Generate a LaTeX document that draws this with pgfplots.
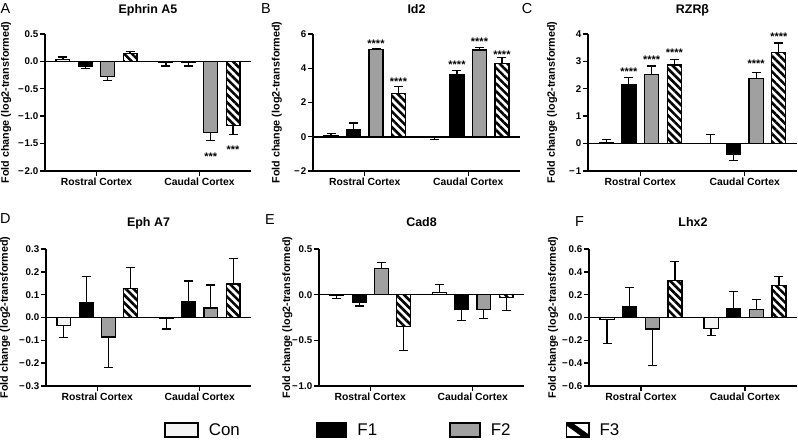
\documentclass[border=0pt]{standalone}
\usepackage{fontspec}
\setmainfont{Liberation Sans}
\usepackage{pgfplots}
\pgfplotsset{compat=1.18}
\usetikzlibrary{patterns.meta}
\definecolor{conc}{HTML}{F4F4F4}
\definecolor{grayF}{HTML}{A0A0A0}
\newcommand{\m}{−\kern0.1em}
\tikzset{st/.style={font=\bfseries\fontsize{11}{12}\selectfont, anchor=base, yshift=-6.3bp, inner sep=0pt}}
\pgfplotsset{
  panel/.style={
    scale only axis, anchor=south west,
    xmin=-0.8, xmax=8.4,
    axis x line=bottom, axis y line=left,
    axis line style={line width=1.6pt, -},
    xtick={1.5,6.1}, xticklabels={Rostral Cortex, Caudal Cortex},
    tick align=outside, major tick length=5bp,
    tick style={line width=1.4pt, black},
    xticklabel style={font=\bfseries\fontsize{10.4}{12}\selectfont, inner sep=1bp, yshift=-1bp},
    yticklabel style={font=\bfseries\fontsize{9.8}{11}\selectfont, inner sep=1.5bp},
    title style={at={(0.5,1)}, anchor=base, font=\bfseries\fontsize{12.5}{14}\selectfont},
    ylabel={Fold change (log2-transformed)},
    ylabel style={font=\bfseries\fontsize{10.8}{12}\selectfont, anchor=center},
    clip=false,
  },
  barbase/.style={ybar, bar width=0.62, bar shift=0pt, draw=black, line width=1.2pt,
    error bars/y dir=both, error bars/y explicit,
    error bars/error bar style={line width=1.2pt, black},
    error bars/error mark options={rotate=90, line width=1.2pt, mark size=4.5bp, black}},
  con/.style={barbase, fill=conc},
  fone/.style={barbase, fill=black},
  ftwo/.style={barbase, fill=grayF},
  fthree/.style={barbase, fill=white, postaction={pattern={Lines[angle=-45,distance=5.5bp,line width=2.6bp]}, pattern color=black}},
}
\begin{document}
\begin{tikzpicture}
\path[use as bounding box] (0,0) rectangle (798bp,443bp);

% ---------- A ----------
\begin{axis}[panel, at={(45bp,272bp)}, width=206bp, height=137bp,
  ymin=-2, ymax=0.5, ytick={-2,-1.5,-1,-0.5,0,0.5},
  yticklabels={\m2.0,\m1.5,\m1.0,\m0.5,0.0,0.5},
  title={Ephrin A5}, title style={yshift=15bp},
  ylabel style={at={(axis description cs:-0.189,0.5)}}]
\addplot[con] coordinates {(0,0.03) += (0,0.05) -= (0,0) (4.6,-0.01) += (0,0) -= (0,0.075)};
\addplot[fone] coordinates {(1,-0.085) += (0,0) -= (0,0.045) (5.6,-0.02) += (0,0) -= (0,0.065)};
\addplot[ftwo] coordinates {(2,-0.27) += (0,0) -= (0,0.08) (6.6,-1.30) += (0,0) -= (0,0.15)};
\addplot[fthree] coordinates {(3,0.14) += (0,0.04) -= (0,0) (7.6,-1.17) += (0,0) -= (0,0.16)};
\draw[line width=1.6pt] (axis cs:-0.8,0) -- (axis cs:8.4,0);
\node[st] at (axis cs:6.6,-1.69) {***};
\node[st] at (axis cs:7.6,-1.56) {***};
\end{axis}

% ---------- B ----------
\begin{axis}[panel, at={(313bp,272bp)}, width=207bp, height=137bp,
  ymin=-2, ymax=6, ytick={-2,0,2,4,6},
  yticklabels={\m2,0,2,4,6},
  title={Id2}, title style={yshift=15bp},
  ylabel style={at={(axis description cs:-0.174,0.5)}}]
\addplot[con] coordinates {(0,0.05) += (0,0.15) -= (0,0) (4.6,-0.05) += (0,0) -= (0,0.10)};
\addplot[fone] coordinates {(1,0.43) += (0,0.37) -= (0,0) (5.6,3.62) += (0,0.23) -= (0,0)};
\addplot[ftwo] coordinates {(2,5.10) += (0,0.03) -= (0,0) (6.6,5.07) += (0,0.12) -= (0,0)};
\addplot[fthree] coordinates {(3,2.53) += (0,0.39) -= (0,0) (7.6,4.28) += (0,0.37) -= (0,0)};
\draw[line width=1.6pt] (axis cs:-0.8,0) -- (axis cs:8.4,0);
\node[st] at (axis cs:2,5.6) {****};
\node[st] at (axis cs:3,3.37) {****};
\node[st] at (axis cs:5.6,4.34) {****};
\node[st] at (axis cs:6.6,5.7) {****};
\node[st] at (axis cs:7.6,4.96) {****};
\end{axis}

% ---------- C ----------
\begin{axis}[panel, at={(588bp,272bp)}, width=209bp, height=137bp,
  ymin=-1, ymax=4, ytick={-1,0,1,2,3,4},
  yticklabels={\m1,0,1,2,3,4},
  title={RZRβ}, title style={yshift=15bp},
  ylabel style={at={(axis description cs:-0.172,0.5)}}]
\addplot[con] coordinates {(0,0.02) += (0,0.13) -= (0,0) (4.6,0.0) += (0,0.33) -= (0,0)};
\addplot[fone] coordinates {(1,2.14) += (0,0.26) -= (0,0) (5.6,-0.41) += (0,0) -= (0,0.21)};
\addplot[ftwo] coordinates {(2,2.52) += (0,0.31) -= (0,0) (6.6,2.37) += (0,0.22) -= (0,0)};
\addplot[fthree] coordinates {(3,2.87) += (0,0.21) -= (0,0) (7.6,3.32) += (0,0.35) -= (0,0)};
\draw[line width=1.6pt] (axis cs:-0.8,0) -- (axis cs:8.4,0);
\node[st] at (axis cs:1,2.72) {****};
\node[st] at (axis cs:2,3.15) {****};
\node[st] at (axis cs:3,3.42) {****};
\node[st] at (axis cs:6.6,2.99) {****};
\node[st] at (axis cs:7.6,3.99) {****};
\end{axis}

% ---------- D ----------
\begin{axis}[panel, at={(46bp,57bp)}, width=205bp, height=137bp,
  ymin=-0.3, ymax=0.3, ytick={-0.3,-0.2,-0.1,0,0.1,0.2,0.3},
  yticklabels={\m0.3,\m0.2,\m0.1,0.0,0.1,0.2,0.3},
  title={Eph A7}, title style={yshift=17bp},
  ylabel style={at={(axis description cs:-0.2,0.5)}}]
\addplot[con] coordinates {(0,-0.034) += (0,0) -= (0,0.055) (4.6,-0.003) += (0,0) -= (0,0.047)};
\addplot[fone] coordinates {(1,0.064) += (0,0.116) -= (0,0) (5.6,0.07) += (0,0.09) -= (0,0)};
\addplot[ftwo] coordinates {(2,-0.085) += (0,0) -= (0,0.134) (6.6,0.042) += (0,0.10) -= (0,0)};
\addplot[fthree] coordinates {(3,0.127) += (0,0.093) -= (0,0) (7.6,0.147) += (0,0.11) -= (0,0)};
\draw[line width=1.6pt] (axis cs:-0.8,0) -- (axis cs:8.4,0);
\end{axis}

% ---------- E ----------
\begin{axis}[panel, at={(319bp,57bp)}, width=205bp, height=137bp,
  ymin=-1, ymax=0.5, ytick={-1,-0.5,0,0.5},
  yticklabels={\m1.0,\m0.5,0.0,0.5},
  title={Cad8}, title style={yshift=17bp},
  ylabel style={at={(axis description cs:-0.154,0.5)}}]
\addplot[con] coordinates {(0,-0.005) += (0,0) -= (0,0.04) (4.6,0.025) += (0,0.09) -= (0,0)};
\addplot[fone] coordinates {(1,-0.084) += (0,0) -= (0,0.04) (5.6,-0.164) += (0,0) -= (0,0.116)};
\addplot[ftwo] coordinates {(2,0.284) += (0,0.07) -= (0,0) (6.6,-0.164) += (0,0) -= (0,0.098)};
\addplot[fthree] coordinates {(3,-0.346) += (0,0) -= (0,0.264) (7.6,-0.03) += (0,0) -= (0,0.145)};
\draw[line width=1.6pt] (axis cs:-0.8,0) -- (axis cs:8.4,0);
\end{axis}

% ---------- F ----------
\begin{axis}[panel, at={(589bp,57bp)}, width=208bp, height=137bp,
  ymin=-0.6, ymax=0.6, ytick={-0.6,-0.4,-0.2,0,0.2,0.4,0.6},
  yticklabels={\m0.6,\m0.4,\m0.2,0.0,0.2,0.4,0.6},
  title={Lhx2}, title style={yshift=17bp},
  ylabel style={at={(axis description cs:-0.173,0.5)}}]
\addplot[con] coordinates {(0,-0.017) += (0,0) -= (0,0.213) (4.6,-0.096) += (0,0) -= (0,0.062)};
\addplot[fone] coordinates {(1,0.093) += (0,0.173) -= (0,0) (5.6,0.076) += (0,0.152) -= (0,0)};
\addplot[ftwo] coordinates {(2,-0.10) += (0,0) -= (0,0.32) (6.6,0.07) += (0,0.09) -= (0,0)};
\addplot[fthree] coordinates {(3,0.324) += (0,0.164) -= (0,0) (7.6,0.283) += (0,0.073) -= (0,0)};
\draw[line width=1.6pt] (axis cs:-0.8,0) -- (axis cs:8.4,0);
\end{axis}

% ---------- Legend ----------
\begin{axis}[at={(0bp,0bp)}, anchor=south west, scale only axis, width=798bp, height=443bp,
  hide axis, xmin=0, xmax=1, ymin=0, ymax=1,
  legend columns=4,
  legend style={draw=none, fill=none, at={(0.2055,0.0293)}, anchor=west, inner sep=0pt,
    font=\fontsize{17}{19}\selectfont,
    /tikz/every odd column/.style={column sep=8bp},
    /tikz/column 2/.style={column sep=74bp},
    /tikz/column 4/.style={column sep=70bp},
    /tikz/column 6/.style={column sep=53bp}},
  legend image code/.code={\draw[#1, line width=1.6pt] (0bp,-7bp) rectangle (30bp,7bp);}]
\addlegendimage{legend image code/.code={\draw[fill=conc, line width=1.6pt] (0bp,-7bp) rectangle (33bp,7bp);}}
\addlegendentry{Con}
\addlegendimage{fill=black, draw=black}
\addlegendentry{F1}
\addlegendimage{fill=grayF, draw=black}
\addlegendentry{F2}
\addlegendimage{legend image code/.code={%
  \begin{scope}\clip (0bp,-7bp) rectangle (22.5bp,7bp);
  \fill[white] (0bp,-7bp) rectangle (22.5bp,7bp);
  \fill[black] (-3bp,7bp) -- (6bp,7bp) -- (25.5bp,-7bp) -- (16.5bp,-7bp) -- cycle;
  \end{scope}
  \draw[line width=1.6pt] (0bp,-7bp) rectangle (22.5bp,7bp);}}
\addlegendentry{F3}
\end{axis}

\node[anchor=base west, font=\fontsize{14.5}{16}\selectfont, inner sep=0pt] at (0.5bp,429.7bp) {A};
\node[anchor=base west, font=\fontsize{14.5}{16}\selectfont, inner sep=0pt] at (261bp,429.7bp) {B};
\node[anchor=base west, font=\fontsize{14.5}{16}\selectfont, inner sep=0pt] at (521.7bp,429.7bp) {C};
\node[anchor=base west, font=\fontsize{14.5}{16}\selectfont, inner sep=0pt] at (0bp,219.7bp) {D};
\node[anchor=base west, font=\fontsize{14.5}{16}\selectfont, inner sep=0pt] at (265bp,218.7bp) {E};
\node[anchor=base west, font=\fontsize{14.5}{16}\selectfont, inner sep=0pt] at (575bp,216bp) {F};
\end{tikzpicture}
\end{document}
